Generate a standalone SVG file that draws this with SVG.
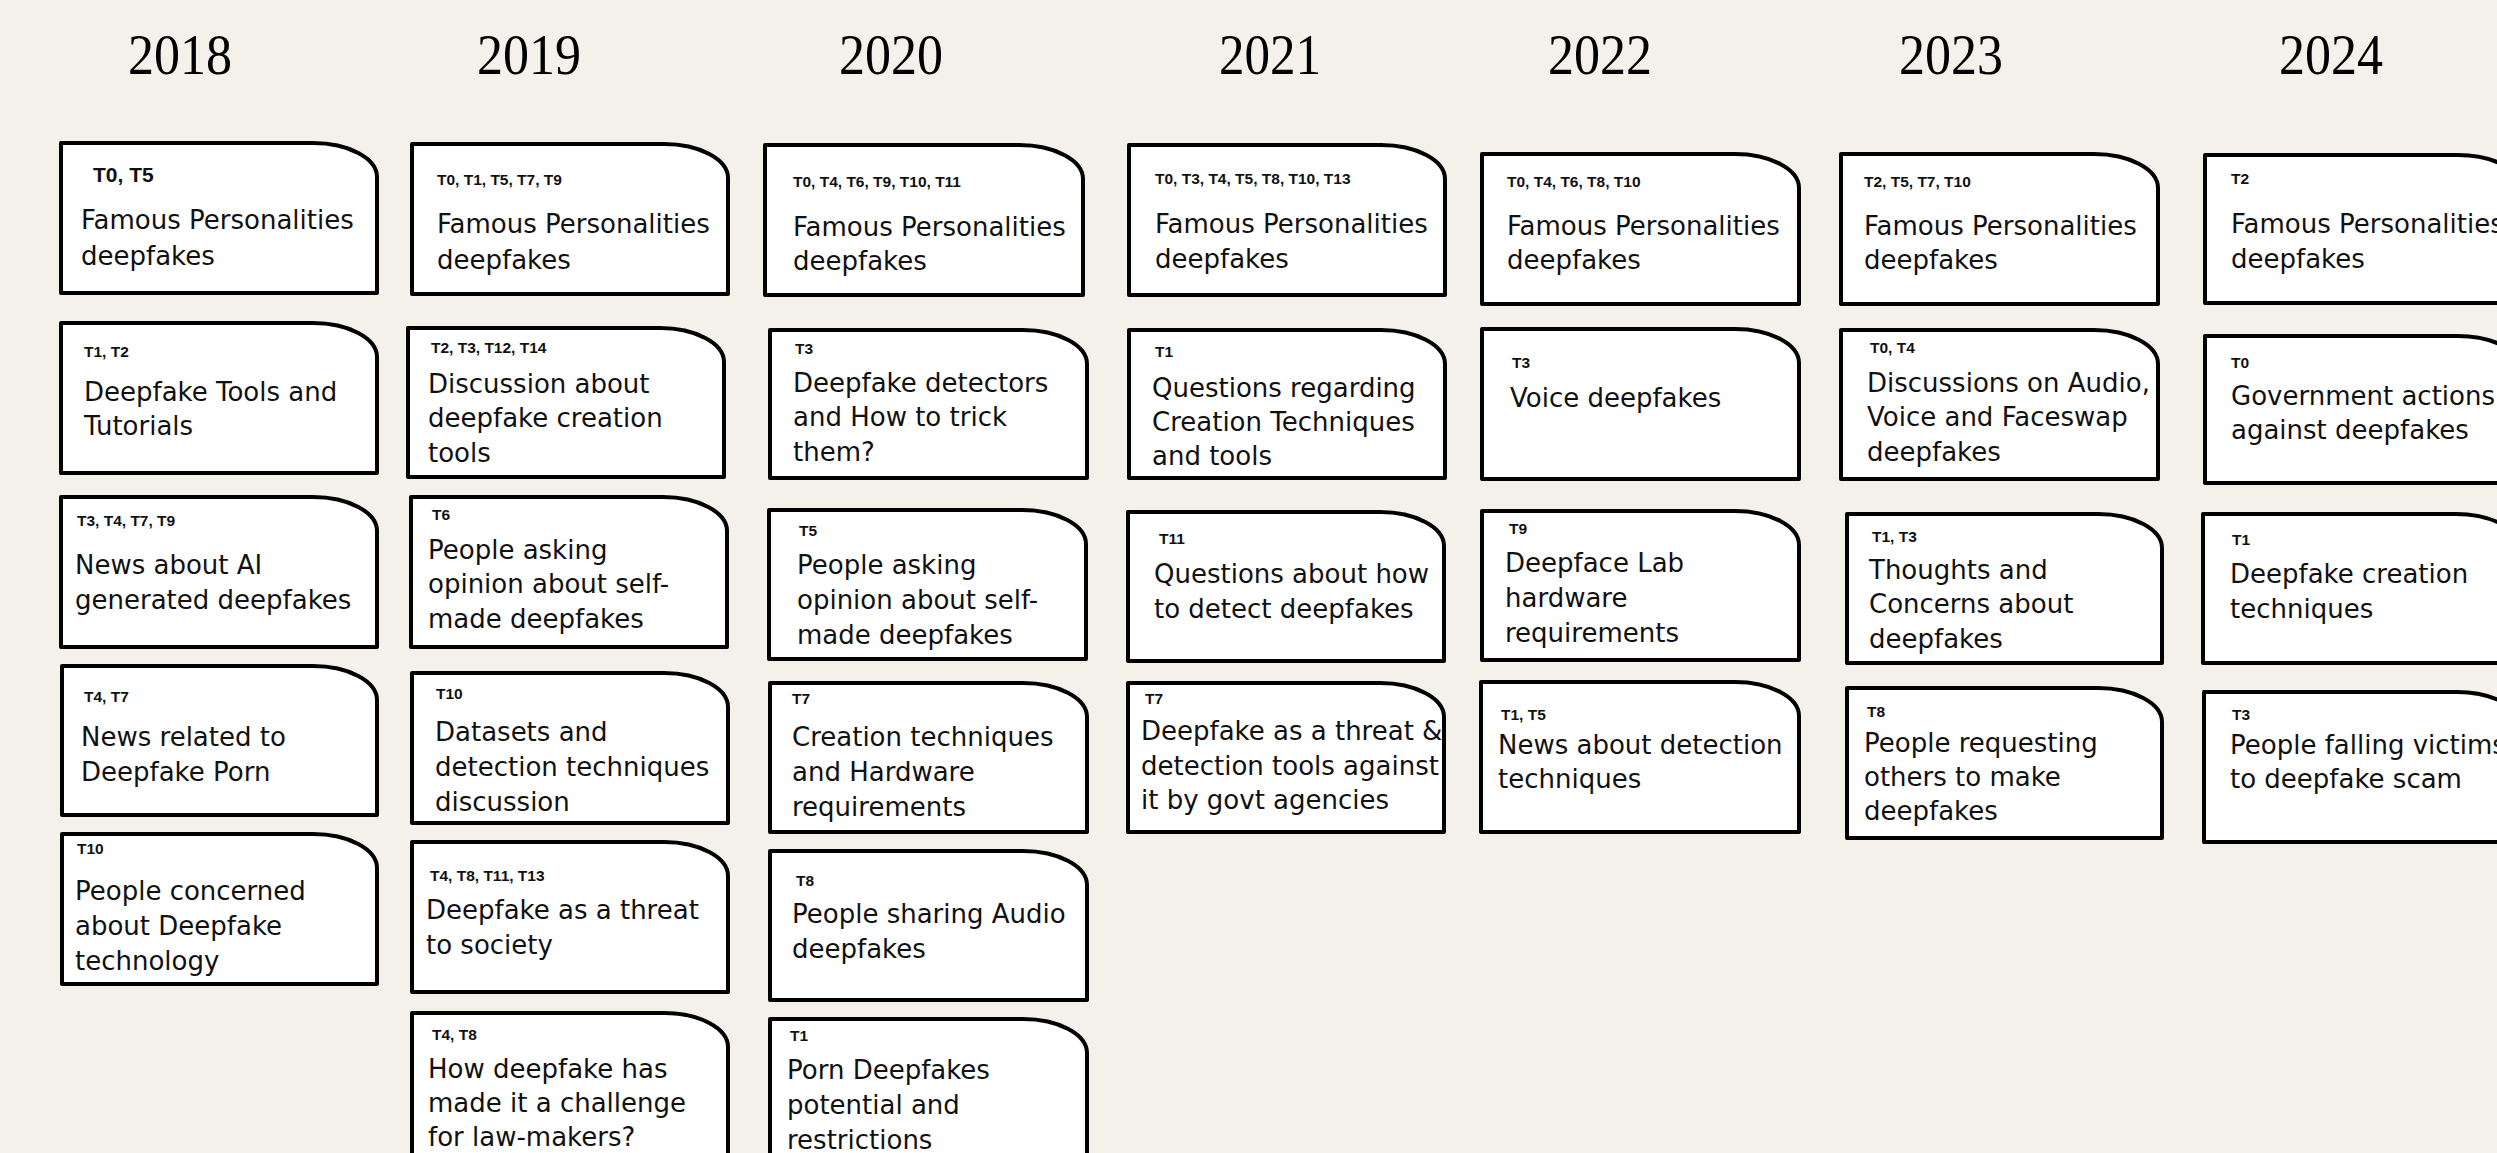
<svg xmlns="http://www.w3.org/2000/svg" width="2497" height="1153" viewBox="0 0 2497 1153">
<style>
.bg{fill:#F4F1EA}
.box{fill:#fff;stroke:#000;stroke-width:4;stroke-linejoin:round}
.yr{font-family:"Liberation Serif","Times New Roman",serif;font-size:58px;fill:#000;text-anchor:middle}
.lb{font-family:"Liberation Sans",Arial,sans-serif;font-weight:bold;font-size:15.5px;fill:#111}
.tx{font-family:"DejaVu Sans","Noto Sans",sans-serif;font-size:26px;fill:#111}
</style>
<rect class="bg" x="0" y="0" width="2497" height="1153"/>
<g id="years">
<text class="yr" x="180" y="74" textLength="104" lengthAdjust="spacingAndGlyphs">2018</text>
<text class="yr" x="529" y="74" textLength="104" lengthAdjust="spacingAndGlyphs">2019</text>
<text class="yr" x="891" y="74" textLength="104" lengthAdjust="spacingAndGlyphs">2020</text>
<text class="yr" x="1270" y="74" textLength="102" lengthAdjust="spacingAndGlyphs">2021</text>
<text class="yr" x="1600" y="74" textLength="104" lengthAdjust="spacingAndGlyphs">2022</text>
<text class="yr" x="1951" y="74" textLength="104" lengthAdjust="spacingAndGlyphs">2023</text>
<text class="yr" x="2331" y="74" textLength="104" lengthAdjust="spacingAndGlyphs">2024</text>
</g>

<!-- 2018 -->
<g id="n2018-1"><path class="box" d="M61 143 h252 a64 34 0 0 1 64 34 v116 h-316 z"/>
<text class="lb" x="93" y="182" style="font-size:21px">T0, T5</text>
<text class="tx"><tspan x="81" y="229">Famous Personalities</tspan><tspan x="81" y="265">deepfakes</tspan></text></g>
<g id="n2018-2"><path class="box" d="M61 323 h252 a64 34 0 0 1 64 34 v116 h-316 z"/>
<text class="lb" x="84" y="357">T1, T2</text>
<text class="tx"><tspan x="84" y="401">Deepfake Tools and</tspan><tspan x="84" y="435">Tutorials</tspan></text></g>
<g id="n2018-3"><path class="box" d="M61 497 h252 a64 34 0 0 1 64 34 v116 h-316 z"/>
<text class="lb" x="77" y="526">T3, T4, T7, T9</text>
<text class="tx"><tspan x="75" y="574">News about AI</tspan><tspan x="75" y="609">generated deepfakes</tspan></text></g>
<g id="n2018-4"><path class="box" d="M62 666 h251 a64 34 0 0 1 64 34 v115 h-315 z"/>
<text class="lb" x="84" y="702">T4, T7</text>
<text class="tx"><tspan x="81" y="746">News related to</tspan><tspan x="81" y="781">Deepfake Porn</tspan></text></g>
<g id="n2018-5"><path class="box" d="M62 834 h251 a64 34 0 0 1 64 34 v116 h-315 z"/>
<text class="lb" x="77" y="854">T10</text>
<text class="tx"><tspan x="75" y="900">People concerned</tspan><tspan x="75" y="935">about Deepfake</tspan><tspan x="75" y="970">technology</tspan></text></g>

<!-- 2019 -->
<g id="n2019-1"><path class="box" d="M412 144 h252 a64 34 0 0 1 64 34 v116 h-316 z"/>
<text class="lb" x="437" y="185">T0, T1, T5, T7, T9</text>
<text class="tx"><tspan x="437" y="233">Famous Personalities</tspan><tspan x="437" y="269">deepfakes</tspan></text></g>
<g id="n2019-2"><path class="box" d="M408 328 h252 a64 34 0 0 1 64 34 v115 h-316 z"/>
<text class="lb" x="431" y="353">T2, T3, T12, T14</text>
<text class="tx"><tspan x="428" y="393">Discussion about</tspan><tspan x="428" y="427">deepfake creation</tspan><tspan x="428" y="462">tools</tspan></text></g>
<g id="n2019-3"><path class="box" d="M411 497 h252 a64 34 0 0 1 64 34 v116 h-316 z"/>
<text class="lb" x="432" y="520">T6</text>
<text class="tx"><tspan x="428" y="559">People asking</tspan><tspan x="428" y="593">opinion about self-</tspan><tspan x="428" y="628">made deepfakes</tspan></text></g>
<g id="n2019-4"><path class="box" d="M412 673 h252 a64 34 0 0 1 64 34 v116 h-316 z"/>
<text class="lb" x="436" y="699">T10</text>
<text class="tx"><tspan x="435" y="741">Datasets and</tspan><tspan x="435" y="776">detection techniques</tspan><tspan x="435" y="811">discussion</tspan></text></g>
<g id="n2019-5"><path class="box" d="M412 842 h252 a64 34 0 0 1 64 34 v116 h-316 z"/>
<text class="lb" x="430" y="881">T4, T8, T11, T13</text>
<text class="tx"><tspan x="426" y="919">Deepfake as a threat</tspan><tspan x="426" y="954">to society</tspan></text></g>
<g id="n2019-6"><path class="box" d="M412 1013 h252 a64 34 0 0 1 64 34 v166 h-316 z"/>
<text class="lb" x="432" y="1040">T4, T8</text>
<text class="tx"><tspan x="428" y="1078">How deepfake has</tspan><tspan x="428" y="1112">made it a challenge</tspan><tspan x="428" y="1146">for law-makers?</tspan></text></g>

<!-- 2020 -->
<g id="n2020-1"><path class="box" d="M765 145 h254 a64 34 0 0 1 64 34 v116 h-318 z"/>
<text class="lb" x="793" y="187">T0, T4, T6, T9, T10, T11</text>
<text class="tx"><tspan x="793" y="236">Famous Personalities</tspan><tspan x="793" y="270">deepfakes</tspan></text></g>
<g id="n2020-2"><path class="box" d="M770 330 h253 a64 34 0 0 1 64 34 v114 h-317 z"/>
<text class="lb" x="795" y="354">T3</text>
<text class="tx"><tspan x="793" y="392">Deepfake detectors</tspan><tspan x="793" y="426">and How to trick</tspan><tspan x="793" y="461">them?</tspan></text></g>
<g id="n2020-3"><path class="box" d="M769 510 h253 a64 34 0 0 1 64 34 v115 h-317 z"/>
<text class="lb" x="799" y="536">T5</text>
<text class="tx"><tspan x="797" y="574">People asking</tspan><tspan x="797" y="609">opinion about self-</tspan><tspan x="797" y="644">made deepfakes</tspan></text></g>
<g id="n2020-4"><path class="box" d="M770 683 h253 a64 34 0 0 1 64 34 v115 h-317 z"/>
<text class="lb" x="792" y="704">T7</text>
<text class="tx"><tspan x="792" y="746">Creation techniques</tspan><tspan x="792" y="781">and Hardware</tspan><tspan x="792" y="816">requirements</tspan></text></g>
<g id="n2020-5"><path class="box" d="M770 851 h253 a64 34 0 0 1 64 34 v115 h-317 z"/>
<text class="lb" x="796" y="886">T8</text>
<text class="tx"><tspan x="792" y="923">People sharing Audio</tspan><tspan x="792" y="958">deepfakes</tspan></text></g>
<g id="n2020-6"><path class="box" d="M770 1019 h253 a64 34 0 0 1 64 34 v166 h-317 z"/>
<text class="lb" x="790" y="1041">T1</text>
<text class="tx"><tspan x="787" y="1079">Porn Deepfakes</tspan><tspan x="787" y="1114">potential and</tspan><tspan x="787" y="1149">restrictions</tspan></text></g>

<!-- 2021 -->
<g id="n2021-1"><path class="box" d="M1129 145 h252 a64 34 0 0 1 64 34 v116 h-316 z"/>
<text class="lb" x="1155" y="184">T0, T3, T4, T5, T8, T10, T13</text>
<text class="tx"><tspan x="1155" y="233">Famous Personalities</tspan><tspan x="1155" y="268">deepfakes</tspan></text></g>
<g id="n2021-2"><path class="box" d="M1129 330 h252 a64 34 0 0 1 64 34 v114 h-316 z"/>
<text class="lb" x="1155" y="357">T1</text>
<text class="tx"><tspan x="1152" y="397">Questions regarding</tspan><tspan x="1152" y="431">Creation Techniques</tspan><tspan x="1152" y="465">and tools</tspan></text></g>
<g id="n2021-3"><path class="box" d="M1128 512 h252 a64 34 0 0 1 64 34 v115 h-316 z"/>
<text class="lb" x="1159" y="544">T11</text>
<text class="tx"><tspan x="1154" y="583">Questions about how</tspan><tspan x="1154" y="618">to detect deepfakes</tspan></text></g>
<g id="n2021-4"><path class="box" d="M1128 683 h252 a64 34 0 0 1 64 34 v115 h-316 z"/>
<text class="lb" x="1145" y="704">T7</text>
<text class="tx"><tspan x="1141" y="740">Deepfake as a threat &amp;</tspan><tspan x="1141" y="775">detection tools against</tspan><tspan x="1141" y="809">it by govt agencies</tspan></text></g>

<!-- 2022 -->
<g id="n2022-1"><path class="box" d="M1482 154 h253 a64 34 0 0 1 64 34 v116 h-317 z"/>
<text class="lb" x="1507" y="187">T0, T4, T6, T8, T10</text>
<text class="tx"><tspan x="1507" y="235">Famous Personalities</tspan><tspan x="1507" y="269">deepfakes</tspan></text></g>
<g id="n2022-2"><path class="box" d="M1482 329 h253 a64 34 0 0 1 64 34 v116 h-317 z"/>
<text class="lb" x="1512" y="368">T3</text>
<text class="tx"><tspan x="1510" y="407">Voice deepfakes</tspan></text></g>
<g id="n2022-3"><path class="box" d="M1482 511 h253 a64 34 0 0 1 64 34 v115 h-317 z"/>
<text class="lb" x="1509" y="534">T9</text>
<text class="tx"><tspan x="1505" y="572">Deepface Lab</tspan><tspan x="1505" y="607">hardware</tspan><tspan x="1505" y="642">requirements</tspan></text></g>
<g id="n2022-4"><path class="box" d="M1481 682 h254 a64 34 0 0 1 64 34 v116 h-318 z"/>
<text class="lb" x="1501" y="720">T1, T5</text>
<text class="tx"><tspan x="1498" y="754">News about detection</tspan><tspan x="1498" y="788">techniques</tspan></text></g>

<!-- 2023 -->
<g id="n2023-1"><path class="box" d="M1841 154 h253 a64 34 0 0 1 64 34 v116 h-317 z"/>
<text class="lb" x="1864" y="187">T2, T5, T7, T10</text>
<text class="tx"><tspan x="1864" y="235">Famous Personalities</tspan><tspan x="1864" y="269">deepfakes</tspan></text></g>
<g id="n2023-2"><path class="box" d="M1841 330 h253 a64 34 0 0 1 64 34 v115 h-317 z"/>
<text class="lb" x="1870" y="353">T0, T4</text>
<text class="tx"><tspan x="1867" y="392">Discussions on Audio,</tspan><tspan x="1867" y="426">Voice and Faceswap</tspan><tspan x="1867" y="461">deepfakes</tspan></text></g>
<g id="n2023-3"><path class="box" d="M1847 514 h251 a64 34 0 0 1 64 34 v115 h-315 z"/>
<text class="lb" x="1872" y="542">T1, T3</text>
<text class="tx"><tspan x="1869" y="579">Thoughts and</tspan><tspan x="1869" y="613">Concerns about</tspan><tspan x="1869" y="648">deepfakes</tspan></text></g>
<g id="n2023-4"><path class="box" d="M1847 688 h251 a64 34 0 0 1 64 34 v116 h-315 z"/>
<text class="lb" x="1867" y="717">T8</text>
<text class="tx"><tspan x="1864" y="752">People requesting</tspan><tspan x="1864" y="786">others to make</tspan><tspan x="1864" y="820">deepfakes</tspan></text></g>

<!-- 2024 -->
<g id="n2024-1"><path class="box" d="M2205 155 h253 a64 34 0 0 1 64 34 v114 h-317 z"/>
<text class="lb" x="2231" y="184">T2</text>
<text class="tx"><tspan x="2231" y="233">Famous Personalities</tspan><tspan x="2231" y="268">deepfakes</tspan></text></g>
<g id="n2024-2"><path class="box" d="M2205 336 h253 a64 34 0 0 1 64 34 v113 h-317 z"/>
<text class="lb" x="2231" y="368">T0</text>
<text class="tx"><tspan x="2231" y="405">Government actions</tspan><tspan x="2231" y="439">against deepfakes</tspan></text></g>
<g id="n2024-3"><path class="box" d="M2203 514 h253 a64 34 0 0 1 64 34 v115 h-317 z"/>
<text class="lb" x="2232" y="545">T1</text>
<text class="tx"><tspan x="2230" y="583">Deepfake creation</tspan><tspan x="2230" y="618">techniques</tspan></text></g>
<g id="n2024-4"><path class="box" d="M2204 692 h253 a64 34 0 0 1 64 34 v116 h-317 z"/>
<text class="lb" x="2232" y="720">T3</text>
<text class="tx"><tspan x="2230" y="754">People falling victims</tspan><tspan x="2230" y="788">to deepfake scam</tspan></text></g>

<g id="connectors"></g>
</svg>
